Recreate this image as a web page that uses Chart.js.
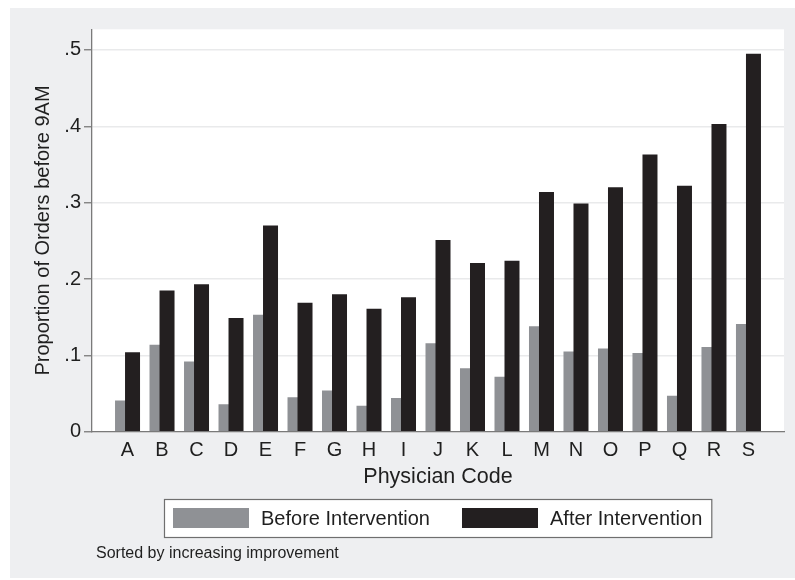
<!DOCTYPE html>
<html>
<head>
<meta charset="utf-8">
<script src="https://cdn.jsdelivr.net/npm/chart.js@4/dist/chart.umd.min.js"></script>
<style>
  html, body { margin: 0; padding: 0; background: #ffffff; }
  #wrap { width: 795px; height: 580px; }
</style>
</head>
<body>
<div id="wrap"><canvas id="c" width="795" height="580"></canvas></div>
<script>
// ---- data ----
const categories = ['A','B','C','D','E','F','G','H','I','J','K','L','M','N','O','P','Q','R','S'];
const beforeValues = [0.041, 0.114, 0.092, 0.036, 0.153, 0.045, 0.054, 0.034, 0.044, 0.116, 0.083, 0.072, 0.138, 0.105, 0.109, 0.103, 0.047, 0.111, 0.141];
const afterValues  = [0.104, 0.185, 0.193, 0.149, 0.270, 0.169, 0.180, 0.161, 0.176, 0.251, 0.221, 0.224, 0.314, 0.299, 0.320, 0.363, 0.322, 0.403, 0.495];
const seriesLabels = ['Before Intervention', 'After Intervention'];
const yTickValues = [0, 0.1, 0.2, 0.3, 0.4, 0.5];
const yTickLabels = ['0', '.1', '.2', '.3', '.4', '.5'];
const xTitle = 'Physician Code';
const yTitle = 'Proportion of Orders before 9AM';
const noteText = 'Sorted by increasing improvement';

// ---- style ----
const FONT = '"Liberation Sans", Arial, Helvetica, sans-serif';
const TEXT = '#1f1f1f';
const AXIS = '#7a7a7a';
const GRID = '#e9eaeb';
const OUTER = '#eeeff1';
const GRAY = '#8f9195';
const BLACK = '#231f20';
const BAR_SHIFT = 0.145;   // half-offset of the overlapping bar pair within a category

const bgPlugin = {
  id: 'stataFrame',
  beforeDraw(chart) {
    const { ctx, chartArea: a } = chart;
    ctx.save();
    ctx.fillStyle = '#ffffff';
    ctx.fillRect(0, 0, chart.width, chart.height);
    ctx.fillStyle = OUTER;
    ctx.fillRect(10, 8, chart.width - 10, chart.height - 10);
    ctx.fillStyle = '#ffffff';
    ctx.fillRect(a.left, a.top, a.right - a.left, a.bottom - a.top);
    ctx.restore();
  },
  afterDraw(chart) {
    const { ctx, chartArea: a } = chart;
    ctx.save();
    ctx.font = '20px ' + FONT;
    const items = chart.data.datasets.map(ds => ({
      label: ds.label, color: ds.backgroundColor, w: ctx.measureText(ds.label).width
    }));
    const SW = 76, SH = 20, GAP_TXT = 12, GAP_ITEM = 32, PADX = 9;
    let content = 0;
    items.forEach((it, i) => { content += SW + GAP_TXT + it.w + (i ? GAP_ITEM : 0); });
    const boxW = content + 2 * PADX;
    const boxX = Math.round((a.left + a.right) / 2 - boxW / 2);
    const boxY = 499, boxH = 38;
    ctx.fillStyle = '#ffffff';
    ctx.fillRect(boxX, boxY, boxW, boxH);
    ctx.strokeStyle = '#6f6f6f';
    ctx.lineWidth = 1.2;
    ctx.strokeRect(boxX + 0.5, boxY + 0.5, boxW, boxH);
    let x = boxX + PADX;
    const sy = boxY + (boxH - SH) / 2;
    items.forEach(it => {
      ctx.fillStyle = it.color;
      ctx.fillRect(x, sy, SW, SH);
      ctx.fillStyle = TEXT;
      ctx.textAlign = 'left';
      ctx.textBaseline = 'middle';
      ctx.fillText(it.label, x + SW + GAP_TXT, sy + SH / 2 + 1);
      x += SW + GAP_TXT + it.w + GAP_ITEM;
    });
    ctx.font = '16px ' + FONT;
    ctx.textBaseline = 'alphabetic';
    ctx.fillStyle = TEXT;
    ctx.fillText(noteText, 96, 558);
    ctx.restore();
  }
};

new Chart(document.getElementById('c'), {
  type: 'bar',
  data: {
    datasets: [
      {
        label: seriesLabels[0],
        data: beforeValues.map((v, i) => ({ x: i - BAR_SHIFT, y: v })),
        backgroundColor: GRAY,
        borderWidth: 0,
        grouped: false,
        barPercentage: 10,
        maxBarThickness: 15,
        order: 1
      },
      {
        label: seriesLabels[1],
        data: afterValues.map((v, i) => ({ x: i + BAR_SHIFT, y: v })),
        backgroundColor: BLACK,
        borderWidth: 0,
        grouped: false,
        barPercentage: 10,
        maxBarThickness: 15,
        order: 0
      }
    ]
  },
  options: {
    responsive: false,
    animation: false,
    devicePixelRatio: 1,
    events: [],
    layout: { padding: { top: 29.3, right: 11, bottom: 88.3, left: 0 } },
    plugins: {
      legend: { display: false },
      tooltip: { enabled: false },
      title: { display: false }
    },
    scales: {
      x: {
        type: 'linear',
        offset: false,
        min: -1.03,
        max: 19.03,
        afterBuildTicks: s => { s.ticks = categories.map((_, i) => ({ value: i })); },
        afterFit: s => { s.height = 60; },
        grid: { display: false, offset: false, drawTicks: false, tickLength: 0 },
        border: { display: true, color: AXIS, width: 1.3 },
        ticks: {
          autoSkip: false, maxRotation: 0, minRotation: 0,
          padding: 7,
          color: TEXT,
          font: { family: FONT, size: 20 },
          callback: v => (categories[v] !== undefined ? categories[v] : '')
        },
        title: {
          display: true, text: xTitle, color: TEXT,
          font: { family: FONT, size: 21.5 },
          padding: { top: 0, bottom: 2 }
        }
      },
      y: {
        min: 0,
        max: 0.527,
        afterBuildTicks: s => { s.ticks = yTickValues.map(v => ({ value: v })); },
        afterFit: s => { s.width = 92; },
        grid: { color: GRID, lineWidth: 1.5, drawTicks: true, tickLength: 8, tickColor: AXIS, tickWidth: 1.3 },
        border: { display: true, color: AXIS, width: 1.3 },
        ticks: {
          padding: 3,
          color: TEXT,
          font: { family: FONT, size: 20 },
          callback: v => { const k = yTickValues.findIndex(t => Math.abs(t - v) < 1e-9); return k >= 0 ? yTickLabels[k] : ''; }
        },
        title: {
          display: true, text: yTitle, color: TEXT,
          font: { family: FONT, size: 20 },
          padding: { top: 31, bottom: 0 }
        }
      }
    }
  },
  plugins: [bgPlugin]
});
</script>
</body>
</html>
